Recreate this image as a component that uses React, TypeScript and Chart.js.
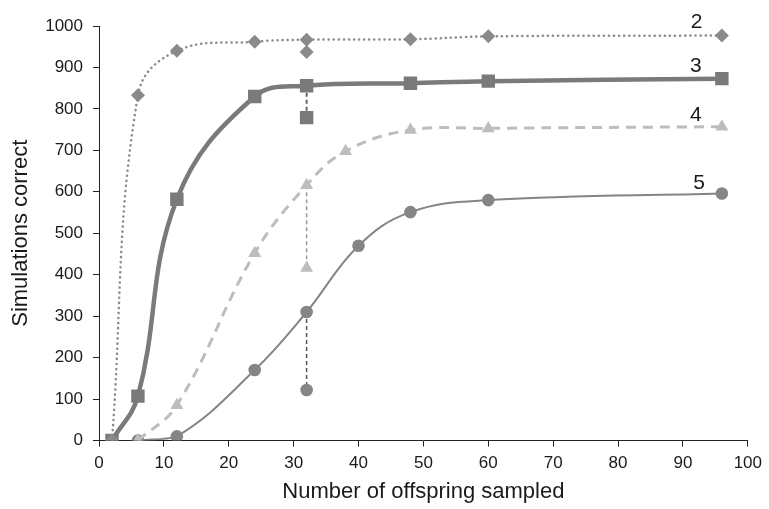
import React, { useEffect, useRef } from "react";
import { Chart, registerables } from "chart.js";

Chart.register(...registerables);

const xs2 = [2, 6, 12, 24, 32, 48, 60, 96];
const ys2 = [0, 833, 940, 962, 967, 968, 975, 977];
const xs3 = [2, 6, 12, 24, 32, 48, 60, 96];
const ys3 = [0, 107, 582, 830, 856, 862, 867, 873];
const xs4 = [6, 12, 24, 32, 38, 48, 60, 96];
const ys4 = [0, 85, 452, 616, 698, 749, 753, 757];
const xs5 = [6, 12, 24, 32, 40, 48, 60, 96];
const ys5 = [0, 10, 170, 310, 470, 551, 580, 596];

// alternative value at x = 32 for each series
const altX = 32;
const alt2 = 937;
const alt3 = 779;
const alt4 = 416;
const alt5 = 122;

const seriesNames = ["2", "3", "4", "5"];
const labelX = [92.1, 92.0, 92.0, 92.5];
const labelY = [1009, 903, 785, 620];

const xTicks = [0, 10, 20, 30, 40, 50, 60, 70, 80, 90, 100];
const yTicks = [0, 100, 200, 300, 400, 500, 600, 700, 800, 900, 1000];

const pts = (xs: number[], ys: number[]) => xs.map((x, i) => ({ x, y: ys[i] }));
const mainAt = (xs: number[], ys: number[], x: number) => ys[xs.indexOf(x)];

const FONT = "'Liberation Sans', Arial, sans-serif";

const labelPlugin = {
  id: "seriesLabels",
  afterDatasetsDraw(chart: any) {
    const { ctx, scales } = chart;
    ctx.save();
    ctx.fillStyle = "#1a1a1a";
    ctx.font = `21px ${FONT}`;
    ctx.textAlign = "center";
    ctx.textBaseline = "middle";
    seriesNames.forEach((n, i) => {
      ctx.fillText(n, scales.x.getPixelForValue(labelX[i]), scales.y.getPixelForValue(labelY[i]));
    });
    ctx.restore();
  },
};

export default function App() {
  const ref = useRef<HTMLCanvasElement>(null);
  useEffect(() => {
    document.body.style.margin = "0";
    const c2 = "#8a8a8c";
    const c3 = "#7a7a7c";
    const c4 = "#bdbdbf";
    const c5 = "#858587";
    const connector = (x: number, yMain: number, yAlt: number, color: string, width: number, dash: number[], style: string, radius: number, lineColor: string) => ({
      data: [{ x, y: yMain }, { x, y: yAlt }],
      borderColor: lineColor,
      borderWidth: width,
      borderDash: dash,
      backgroundColor: color,
      pointBackgroundColor: color,
      pointBorderWidth: 0,
      pointStyle: style,
      pointRadius: [0, radius],
      tension: 0,
      order: 5,
    });
    const chart = new Chart(ref.current!, {
      type: "line",
      data: {
        datasets: [
          connector(altX, mainAt(xs2, ys2, altX), alt2, c2, 1.5, [3, 3], "rectRot", 7, "#777"),
          connector(altX, mainAt(xs3, ys3, altX), alt3, c3, 2, [4, 3], "rect", 9.5, "#666"),
          connector(altX, mainAt(xs4, ys4, altX), alt4, c4, 1.5, [4, 3], "triangle", 7.5, "#999"),
          connector(altX, mainAt(xs5, ys5, altX), alt5, c5, 1.5, [4, 3], "circle", 6.3, "#555"),
          {
            data: pts(xs2, ys2),
            borderColor: c2,
            borderWidth: 2.5,
            borderDash: [0.1, 5],
            borderCapStyle: "round",
            pointStyle: "rectRot",
            pointRadius: 7,
            pointBackgroundColor: c2,
            pointBorderWidth: 0,
            tension: 0.4,
            order: 1,
          },
          {
            data: pts(xs3, ys3),
            borderColor: c3,
            borderWidth: 4.5,
            pointStyle: "rect",
            pointRadius: 9.5,
            pointBackgroundColor: c3,
            pointBorderWidth: 0,
            tension: 0.4,
            order: 2,
          },
          {
            data: pts(xs4, ys4),
            borderColor: c4,
            borderWidth: 3,
            borderDash: [10, 7],
            pointStyle: "triangle",
            pointRadius: 7.5,
            pointBackgroundColor: c4,
            pointBorderWidth: 0,
            tension: 0.4,
            order: 3,
          },
          {
            data: pts(xs5, ys5),
            borderColor: c5,
            borderWidth: 2,
            pointStyle: "circle",
            pointRadius: 6.3,
            pointBackgroundColor: c5,
            pointBorderWidth: 0,
            tension: 0.4,
            order: 4,
          },
        ] as any,
      },
      options: {
        animation: false,
        responsive: false,
        layout: { padding: { left: 0, top: 26, right: 20, bottom: 0 } },
        plugins: { legend: { display: false }, tooltip: { enabled: false } },
        scales: {
          x: {
            type: "linear",
            min: 0,
            max: 100,
            afterBuildTicks: (s: any) => { s.ticks = xTicks.map((v) => ({ value: v })); },
            afterFit: (s: any) => { s.height = 68.5; },
            grid: { display: true, drawOnChartArea: false, drawTicks: true, tickLength: 6, color: "#222" },
            border: { display: true, color: "#222", width: 1 },
            ticks: { color: "#1a1a1a", font: { family: FONT, size: 17 }, padding: 7, maxRotation: 0, callback: (v: any) => String(v) },
            title: { display: true, text: "Number of offspring sampled", color: "#1a1a1a", font: { family: FONT, size: 22 }, padding: { top: 4 } },
          },
          y: {
            type: "linear",
            min: 0,
            max: 1000,
            afterBuildTicks: (s: any) => { s.ticks = yTicks.map((v) => ({ value: v })); },
            afterFit: (s: any) => { s.width = 99; },
            grid: { display: true, drawOnChartArea: false, drawTicks: true, tickLength: 6, color: "#222" },
            border: { display: true, color: "#222", width: 1 },
            ticks: { color: "#1a1a1a", font: { family: FONT, size: 17 }, padding: 10, callback: (v: any) => String(v) },
            title: { display: true, text: "Simulations correct", color: "#1a1a1a", font: { family: FONT, size: 22 }, padding: { top: 8, bottom: 4 } },
          },
        },
      } as any,
      plugins: [labelPlugin],
    });
    return () => chart.destroy();
  }, []);
  return <canvas ref={ref} width={769} height={509} style={{ display: "block" }} />;
}
